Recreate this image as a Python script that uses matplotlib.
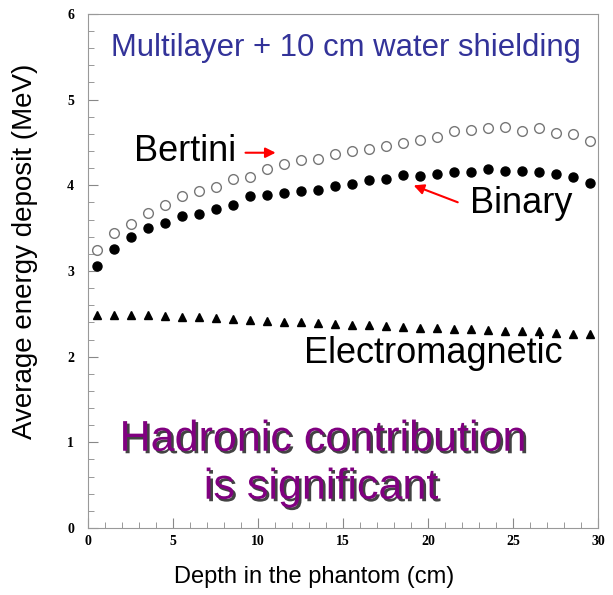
import numpy as np
import matplotlib.pyplot as plt
import matplotlib.patheffects as pe
from matplotlib.ticker import MultipleLocator

plt.rcParams['font.family'] = ['Liberation Sans', 'DejaVu Sans']

# depth bins (cm)
depth = [0.5, 1.5, 2.5, 3.5, 4.5, 5.5, 6.5, 7.5, 8.5, 9.5,
         10.5, 11.5, 12.5, 13.5, 14.5, 15.5, 16.5, 17.5, 18.5, 19.5,
         20.5, 21.5, 22.5, 23.5, 24.5, 25.5, 26.5, 27.5, 28.5, 29.5]

bertini = [3.25, 3.44, 3.55, 3.68, 3.77, 3.88, 3.93, 3.98, 4.07, 4.10,
           4.19, 4.25, 4.30, 4.31, 4.36, 4.40, 4.42, 4.46, 4.49, 4.53,
           4.56, 4.63, 4.64, 4.67, 4.68, 4.63, 4.67, 4.61, 4.60, 4.52]

binary = [3.06, 3.26, 3.40, 3.50, 3.56, 3.64, 3.67, 3.72, 3.77, 3.87,
          3.89, 3.91, 3.93, 3.94, 3.99, 4.01, 4.06, 4.07, 4.12, 4.11,
          4.13, 4.16, 4.15, 4.19, 4.17, 4.17, 4.16, 4.13, 4.10, 4.03]

electromagnetic = [2.49, 2.49, 2.49, 2.49, 2.47, 2.46, 2.46, 2.45, 2.44, 2.43,
                   2.42, 2.41, 2.40, 2.39, 2.38, 2.37, 2.37, 2.36, 2.35, 2.34,
                   2.33, 2.32, 2.32, 2.31, 2.30, 2.30, 2.30, 2.28, 2.27, 2.26]

fig = plt.figure(figsize=(6.13, 5.95), dpi=100)
ax = fig.add_axes([0.1436, 0.1126, 0.832, 0.864])

ax.plot(depth, bertini, 'o', ms=7, mfc='white', mec='#777777', mew=1.0)
ax.plot(depth, binary, 'o', ms=6.5, color='black')
ax.plot(depth, electromagnetic, '^', ms=5.5, color='black')

ax.set_xlim(0, 30)
ax.set_ylim(0, 6)
ax.xaxis.set_major_locator(MultipleLocator(5))
ax.xaxis.set_minor_locator(MultipleLocator(1))
ax.yaxis.set_major_locator(MultipleLocator(1))
ax.yaxis.set_minor_locator(MultipleLocator(0.2))
ax.tick_params(which='both', direction='in', color='#888888', top=False, right=False)
ax.tick_params(which='major', length=7, width=0.8)
ax.tick_params(which='minor', length=4, width=0.6)
ax.tick_params(axis='y', pad=10)
ax.tick_params(axis='x', pad=5)
for lbl in ax.get_xticklabels() + ax.get_yticklabels():
    lbl.set_fontfamily('Liberation Serif')
    lbl.set_fontweight('bold')
    lbl.set_fontsize(10)
for s in ax.spines.values():
    s.set_color('#999999')
    s.set_linewidth(0.8)

fig.text(314 / 613, 1 - 577 / 595, 'Depth in the phantom (cm)', fontsize=17,
         ha='center', va='center')
fig.text(25 / 613, 1 - 251 / 595, 'Average energy deposit (MeV)', fontsize=20,
         ha='center', va='center', rotation=90)

ax.text(15.2, 5.6, 'Multilayer + 10 cm water shielding', color='#333399',
        fontsize=22.4, ha='center', va='center')

ax.text(5.7, 4.39, 'Bertini', fontsize=26, ha='center', va='center')
ax.annotate('', xy=(11.2, 4.38), xytext=(9.1, 4.38),
            arrowprops=dict(arrowstyle='-|>', color='red', lw=1.5, mutation_scale=15))

ax.text(25.5, 3.79, 'Binary', fontsize=26, ha='center', va='center')
ax.annotate('', xy=(19.0, 4.01), xytext=(21.9, 3.79),
            arrowprops=dict(arrowstyle='-|>', color='red', lw=1.5, mutation_scale=15))

ax.text(20.3, 2.04, 'Electromagnetic', fontsize=26, ha='center', va='center')

shadow = [pe.withSimplePatchShadow(offset=(1.8, -1.8), shadow_rgbFace='#222222', alpha=0.85)]
ax.text(13.8, 1.03, 'Hadronic contribution', fontsize=31, color='#800080',
        ha='center', va='center', path_effects=shadow)
ax.text(13.7, 0.47, 'is significant', fontsize=31, color='#800080',
        ha='center', va='center', path_effects=shadow)

fig.savefig('out.png', dpi=100)
